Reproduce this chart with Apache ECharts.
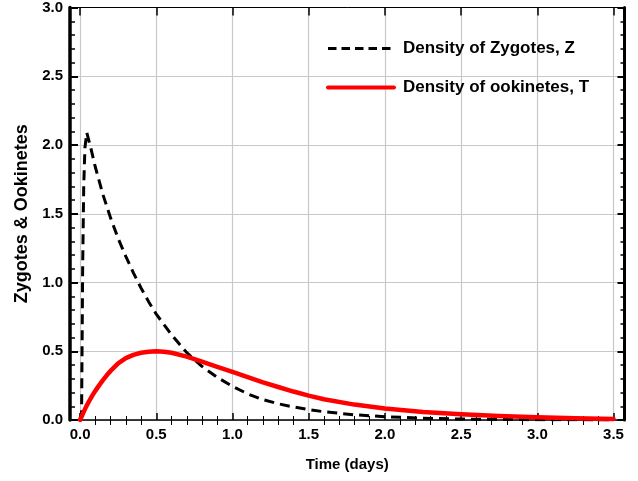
<!DOCTYPE html>
<html><head><meta charset="utf-8">
<script src="https://cdn.jsdelivr.net/npm/echarts@6/dist/echarts.min.js"></script>
<style>html,body{margin:0;padding:0;background:#fff}#c{width:638px;height:481px}</style>
</head><body><div id="c"></div>
<script>
// Density of Zygotes, Z (dashed black)
const zTime  = [0, 0.01, 0.013, 0.017, 0.024, 0.032, 0.044, 0.07, 0.1, 0.15, 0.2, 0.25, 0.3, 0.35, 0.4, 0.45, 0.5, 0.6, 0.7, 0.8, 0.9, 1.0, 1.1, 1.2, 1.3, 1.4, 1.5, 1.6, 1.8, 2.0, 2.25, 2.5, 2.75, 3.0, 3.25, 3.5];
const zValue = [0, 0.05, 0.5, 1.1, 1.7, 1.98, 2.09, 1.98, 1.84, 1.64, 1.47, 1.32, 1.19, 1.07, 0.96, 0.86, 0.77, 0.62, 0.49, 0.39, 0.31, 0.245, 0.19, 0.148, 0.118, 0.095, 0.076, 0.06, 0.038, 0.024, 0.013, 0.007, 0.004, 0.002, 0.001, 0.0006];
// Density of ookinetes, T (solid red)
const tTime  = [0, 0.02, 0.04, 0.06, 0.08, 0.1, 0.125, 0.15, 0.175, 0.2, 0.25, 0.3, 0.35, 0.4, 0.45, 0.5, 0.55, 0.6, 0.7, 0.8, 0.9, 1.0, 1.1, 1.2, 1.3, 1.4, 1.5, 1.6, 1.8, 2.0, 2.25, 2.5, 2.75, 3.0, 3.25, 3.5];
const tValue = [0, 0.05, 0.097, 0.138, 0.177, 0.212, 0.252, 0.29, 0.325, 0.357, 0.412, 0.45, 0.474, 0.489, 0.497, 0.5, 0.497, 0.489, 0.461, 0.424, 0.387, 0.35, 0.311, 0.274, 0.24, 0.207, 0.177, 0.151, 0.112, 0.083, 0.058, 0.041, 0.029, 0.02, 0.012, 0.007];

const seriesNames = ['Density of Zygotes, Z', 'Density of ookinetes, T'];
const xTickLabels = [0, 0.5, 1.0, 1.5, 2.0, 2.5, 3.0, 3.5];
const yTickLabels = [0, 0.5, 1.0, 1.5, 2.0, 2.5, 3.0];
const xMinorTicks = [];
for (let i = 0; i <= 35; i++) { if (i % 5) xMinorTicks.push(i / 10); }

const X_MIN = -0.066, X_MAX = 3.572;
const font = "'Liberation Sans', Arial, Helvetica, sans-serif";
const fmt = v => Number(v).toFixed(1);

const zData = zTime.map((t, i) => [t, zValue[i]]);
const tData = tTime.map((t, i) => [t, tValue[i]]);

const baseX = (pos) => ({
  type: 'value', position: pos, min: X_MIN, max: X_MAX,
  axisLine: { show: false }, axisLabel: { show: false }, splitLine: { show: false },
  axisTick: { show: false }
});

const chart = echarts.init(document.getElementById('c'), null, { renderer: 'canvas' });
chart.setOption({
  animation: false,
  backgroundColor: '#ffffff',
  grid: { left: 70, right: 13.5, top: 7, bottom: 61, containLabel: false },
  legend: {
    orient: 'vertical', left: 326, top: 40, padding: 0,
    itemWidth: 66, itemHeight: 16, itemGap: 22,
    itemStyle: { opacity: 0 },
    textStyle: { fontFamily: font, fontWeight: 'bold', fontSize: 17, color: '#000', padding: [0, 0, 0, 4] },
    data: [
      { name: seriesNames[0], lineStyle: { color: '#000', width: 3, type: [8.5, 5] } },
      { name: seriesNames[1], lineStyle: { color: '#ff0000', width: 4 } }
    ]
  },
  xAxis: [
    Object.assign(baseX('bottom'), {
      name: 'Time (days)', nameLocation: 'middle', nameGap: 45,
      nameTextStyle: { fontFamily: font, fontWeight: 'bold', fontSize: 15, color: '#000', verticalAlign: 'middle' },
      axisLine: { show: true, onZero: false, lineStyle: { color: '#000', width: 1.5 } },
      axisTick: { show: true, inside: true, length: 7, customValues: xTickLabels, lineStyle: { color: '#000', width: 1.5 } },
      axisLabel: { show: true, customValues: xTickLabels, formatter: fmt, margin: 7,
        fontFamily: font, fontWeight: 'bold', fontSize: 15, color: '#000' },
      splitLine: { show: true, lineStyle: { color: '#c8c8c8', width: 1.2 } }
    }),
    Object.assign(baseX('bottom'), {
      axisTick: { show: true, inside: true, length: 4, customValues: xMinorTicks, lineStyle: { color: '#000', width: 1 } }
    }),
    Object.assign(baseX('top'), {
      axisLine: { show: true, onZero: false, lineStyle: { color: '#000', width: 1 } },
      axisTick: { show: true, inside: true, length: 8, customValues: xTickLabels, lineStyle: { color: '#000', width: 1.5 } }
    }),
    Object.assign(baseX('top'), {
      axisTick: { show: true, inside: true, length: 5, customValues: xMinorTicks, lineStyle: { color: '#000', width: 1 } }
    })
  ],
  yAxis: [
    {
      type: 'value', position: 'left', min: 0, max: 3, interval: 0.5,
      name: 'Zygotes & Ookinetes', nameLocation: 'middle', nameGap: 48, nameRotate: 90,
      nameTextStyle: { fontFamily: font, fontWeight: 'bold', fontSize: 18, color: '#000', verticalAlign: 'middle' },
      axisLine: { show: true, onZero: false, lineStyle: { color: '#000', width: 3.5 } },
      axisTick: { show: true, inside: true, length: 8, lineStyle: { color: '#000', width: 2 } },
      minorTick: { show: true, splitNumber: 5, length: 5, lineStyle: { color: '#000', width: 1.5 } },
      axisLabel: { formatter: fmt, margin: 7, fontFamily: font, fontWeight: 'bold', fontSize: 15, color: '#000' },
      splitLine: { show: true, lineStyle: { color: '#c8c8c8', width: 1.2 } }
    },
    {
      type: 'value', position: 'right', min: 0, max: 3, interval: 0.5,
      axisLine: { show: true, onZero: false, lineStyle: { color: '#000', width: 3 } },
      axisTick: { show: true, inside: true, length: 7, lineStyle: { color: '#000', width: 2 } },
      minorTick: { show: true, splitNumber: 5, length: 4, lineStyle: { color: '#000', width: 1.5 } },
      axisLabel: { show: false },
      splitLine: { show: false }
    }
  ],
  series: [
    {
      name: seriesNames[0], type: 'line', xAxisIndex: 0, yAxisIndex: 0,
      data: zData, showSymbol: false, symbol: 'none', smooth: false,
      lineStyle: { color: '#000', width: 3, type: [10, 6], join: 'round' },
      itemStyle: { color: '#000' }, z: 3
    },
    {
      name: seriesNames[1], type: 'line', xAxisIndex: 0, yAxisIndex: 0,
      data: tData, showSymbol: false, symbol: 'none', smooth: false,
      lineStyle: { color: '#ff0000', width: 4.5, join: 'round', cap: 'round' },
      itemStyle: { color: '#ff0000' }, z: 4
    }
  ]
});
</script></body></html>
